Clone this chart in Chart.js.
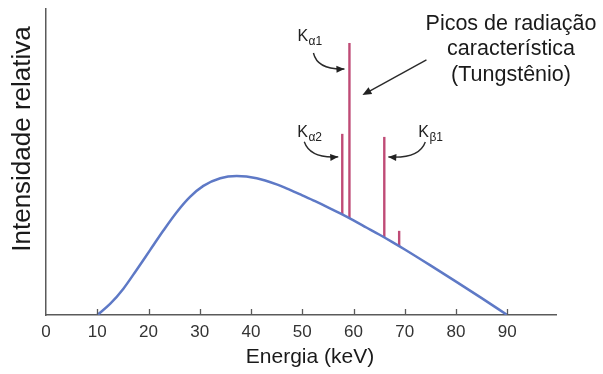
<!DOCTYPE html>
<html>
<head>
<meta charset="utf-8">
<script src="https://cdn.jsdelivr.net/npm/chart.js@4"></script>
<style>
  html, body { margin: 0; padding: 0; background: #ffffff; }
  #wrap { width: 603px; height: 374px; position: relative; }
</style>
</head>
<body>
<div id="wrap"><canvas id="c"></canvas></div>
<script>
// ---- data ----
const curveEnergy    = [10, 12.5, 15.1, 17.7, 20.3, 22.9, 25.5, 28.1, 30.7, 34.0, 37.2, 41.1, 45.0, 47.6, 50, 52.5, 55, 57.5, 60, 62.5, 65, 67.5, 70, 75, 80, 85, 90];
const curveIntensity = [0, 3.6, 8.6, 14.8, 21.2, 27.6, 33.6, 38.6, 42.2, 44.7, 45.4, 44.7, 42.7, 40.9, 39.1, 37.2, 35.2, 33.1, 30.9, 28.6, 26.3, 23.9, 21.4, 16.2, 10.9, 5.5, 0];

const spikeNames  = ['Kα2', 'Kα1', 'Kβ1', 'Kβ2'];
const spikeEnergy = [57.8, 59.2, 66.0, 68.9];
const spikeBase   = [32.9, 31.6, 25.3, 22.5];
const spikeTop    = [59.2, 88.9, 58.2, 27.5];

const xTickValues = [0, 10, 20, 30, 40, 50, 60, 70, 80, 90];

const xTitle = 'Energia (keV)';
const yTitle = 'Intensidade relativa';
const noteLines = ['Picos de radiação', 'característica', '(Tungstênio)'];

// ---- chart ----
const FONT = '"Liberation Sans", Arial, Helvetica, sans-serif';
const BLUE = '#5e79c6';
const RED = '#bf4b76';
const AXIS = '#5a5a5a';
const INK = '#1a1a1a';

const datasets = [{
  label: 'Espectro contínuo',
  data: curveEnergy.map((e, i) => ({ x: e, y: curveIntensity[i] })),
  borderColor: BLUE,
  borderWidth: 2.5,
  pointRadius: 0,
  cubicInterpolationMode: 'monotone',
  fill: false,
  order: 1
}];
spikeEnergy.forEach((e, i) => {
  datasets.push({
    label: spikeNames[i],
    data: [{ x: e, y: spikeBase[i] }, { x: e, y: spikeTop[i] }],
    borderColor: RED,
    borderWidth: 2.4,
    pointRadius: 0,
    borderCapStyle: 'butt',
    fill: false,
    order: 2
  });
});

function arrowHead(ctx, fx, fy, tx, ty, len, half) {
  const a = Math.atan2(ty - fy, tx - fx);
  ctx.beginPath();
  ctx.moveTo(tx, ty);
  ctx.lineTo(tx - len * Math.cos(a) + half * Math.sin(a), ty - len * Math.sin(a) - half * Math.cos(a));
  ctx.lineTo(tx - len * Math.cos(a) - half * Math.sin(a), ty - len * Math.sin(a) + half * Math.cos(a));
  ctx.closePath();
  ctx.fill();
}
function curvedArrow(ctx, sx, sy, cx, cy, ex, ey) {
  ctx.beginPath();
  ctx.moveTo(sx, sy);
  ctx.quadraticCurveTo(cx, cy, ex, ey);
  ctx.stroke();
  arrowHead(ctx, cx, cy, ex, ey, 8, 3.5);
}
function kLabel(ctx, x, y, sub) {
  ctx.font = '16px ' + FONT;
  ctx.textAlign = 'left';
  ctx.textBaseline = 'alphabetic';
  ctx.fillText('K', x, y);
  const w = ctx.measureText('K').width;
  ctx.font = '12px ' + FONT;
  ctx.fillText(sub, x + w + 0.5, y + 4);
}

const decor = {
  id: 'decor',
  afterDraw(chart) {
    const ctx = chart.ctx;
    const xs = chart.scales.x, ys = chart.scales.y;
    ctx.save();
    // inward tick marks on the x axis
    ctx.strokeStyle = AXIS;
    ctx.lineWidth = 1.3;
    xTickValues.forEach(v => {
      if (v === 0) return;
      const px = Math.round(xs.getPixelForValue(v)) + 0.5;
      ctx.beginPath();
      ctx.moveTo(px, ys.bottom);
      ctx.lineTo(px, ys.bottom - 6);
      ctx.stroke();
    });

    // axis titles
    ctx.fillStyle = INK;
    ctx.font = '21px ' + FONT;
    ctx.textAlign = 'center';
    ctx.textBaseline = 'middle';
    ctx.fillText(xTitle, 310, 357);
    ctx.save();
    ctx.translate(23, 139);
    ctx.rotate(-Math.PI / 2);
    ctx.font = '26px ' + FONT;
    ctx.fillText(yTitle, 0, 0);
    ctx.restore();

    // note on the characteristic peaks
    ctx.font = '21.5px ' + FONT;
    ctx.textAlign = 'center';
    ctx.textBaseline = 'middle';
    noteLines.forEach((t, i) => ctx.fillText(t, 511, 24 + i * 25.5));

    // peak labels and arrows, anchored to the spikes through the scales
    const px = spikeEnergy.map(e => xs.getPixelForValue(e));
    const pt = spikeTop.map(v => ys.getPixelForValue(v));
    ctx.fillStyle = '#222';
    ctx.strokeStyle = '#2a2a2a';
    ctx.lineWidth = 1.4;
    // K alpha1
    kLabel(ctx, px[1] - 52, pt[1] - 2, 'α1');
    curvedArrow(ctx, px[1] - 36, pt[1] + 10, px[1] - 32, pt[1] + 27, px[1] - 5, pt[1] + 26);
    // K alpha2
    kLabel(ctx, px[0] - 45, pt[0] + 3, 'α2');
    curvedArrow(ctx, px[0] - 38, pt[0] + 8, px[0] - 32, pt[0] + 25, px[0] - 4, pt[0] + 23);
    // K beta1
    kLabel(ctx, px[2] + 34, pt[2] + 0, 'β1');
    curvedArrow(ctx, px[2] + 41, pt[2] + 5, px[2] + 35, pt[2] + 22, px[2] + 4, pt[2] + 20);
    // big arrow toward the peaks
    ctx.beginPath();
    ctx.moveTo(px[1] + 77, pt[1] + 17);
    ctx.lineTo(px[1] + 17, pt[1] + 50);
    ctx.stroke();
    arrowHead(ctx, px[1] + 77, pt[1] + 17, px[1] + 13, pt[1] + 52, 9, 3.8);
    ctx.restore();
  }
};

new Chart(document.getElementById('c'), {
  type: 'line',
  data: { datasets },
  options: {
    responsive: true,
    maintainAspectRatio: false,
    animation: false,
    events: [],
    layout: { padding: { top: 9, right: 47, left: 0, bottom: 0 } },
    plugins: { legend: { display: false }, tooltip: { enabled: false } },
    scales: {
      x: {
        type: 'linear',
        min: 0,
        max: 99.5,
        afterBuildTicks: s => { s.ticks = xTickValues.map(v => ({ value: v })); },
        afterFit: s => { s.height = 59; },
        grid: { display: false, drawTicks: false },
        border: { display: true, color: AXIS, width: 1.5 },
        ticks: { color: '#333', font: { family: FONT, size: 17 }, padding: 7, maxRotation: 0, autoSkip: false }
      },
      y: {
        type: 'linear',
        min: 0,
        max: 100,
        afterFit: s => { s.width = 46; },
        grid: { display: false, drawTicks: false },
        border: { display: true, color: AXIS, width: 1.5 },
        ticks: { display: false }
      }
    }
  },
  plugins: [decor]
});
</script>
</body>
</html>
